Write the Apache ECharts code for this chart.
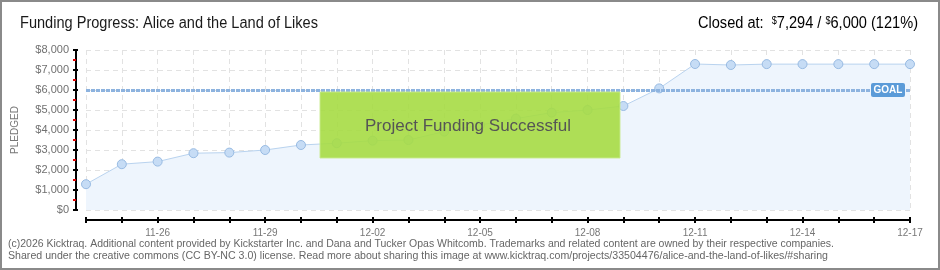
<!DOCTYPE html>
<html><head><meta charset="utf-8">
<script src="https://cdn.jsdelivr.net/npm/echarts@6/dist/echarts.min.js"></script>
<style>html,body{margin:0;padding:0;background:#fff}#c{width:940px;height:270px}</style>
</head><body><div id="c"></div>
<script>
const dates = ['11-24','11-25','11-26','11-27','11-28','11-29','11-30','12-01','12-02','12-03','12-04','12-05','12-06','12-07','12-08','12-09','12-10','12-11','12-12','12-13','12-14','12-15','12-16','12-17'];
const pledged = [1290,2290,2420,2840,2870,3000,3250,3340,3470,3500,3920,4250,4570,4870,5000,5200,6080,7300,7250,7294,7294,7294,7294,7294];
const goal = 6000;
const yTicks = {min:0, max:8000, interval:1000};
const titleText = 'Funding Progress: Alice and the Land of Likes';
const closedParts = ['Closed at:  ', '$', '7,294 / ', '$', '6,000 (121%)'];
const bannerText = 'Project Funding Successful';
const footer1 = '(c)2026 Kicktraq. Additional content provided by Kickstarter Inc. and Dana and Tucker Opas Whitcomb. Trademarks and related content are owned by their respective companies.';
const footer2 = 'Shared under the creative commons (CC BY-NC 3.0) license. Read more about sharing this image at www.kicktraq.com/projects/33504476/alice-and-the-land-of-likes/#sharing';

const FF = 'Liberation Sans, Arial, sans-serif';
const mctx = document.createElement('canvas').getContext('2d');
function w(text, size){ mctx.font = size + 'px ' + FF; return mctx.measureText(text).width; }

const chart = echarts.init(document.getElementById('c'));
const gridPos = {left:86, right:30, top:50, bottom:60};
function fmt(v){ return '$' + v.toLocaleString('en-US'); }

const option = {
  backgroundColor:'#fff',
  animation:false,
  grid:[Object.assign({}, gridPos), Object.assign({}, gridPos)],
  xAxis:[{
    type:'category', data:dates, boundaryGap:false, offset:10, gridIndex:0,
    axisLine:{onZero:false, lineStyle:{color:'#000', width:2}},
    axisTick:{show:true, interval:0, length:3, lineStyle:{color:'#000', width:2}},
    axisLabel:{interval:function(i){return i>=2 && (i-2)%3===0;}, color:'#777', fontSize:10, margin:8, fontFamily:FF},
    splitLine:{show:true, interval:0, lineStyle:{type:[5,4], color:'#e2e2e2'}}
  },{
    type:'category', data:dates, boundaryGap:false, offset:10, gridIndex:1,
    axisLine:{show:false, onZero:false},
    axisTick:{show:true, inside:true, interval:0, length:3, lineStyle:{color:'#000', width:2}},
    axisLabel:{show:false}, splitLine:{show:false}
  }],
  yAxis:[{
    type:'value', min:yTicks.min, max:yTicks.max, interval:yTicks.interval, offset:10, gridIndex:0,
    name:'PLEDGED', nameLocation:'middle', nameRotate:90, nameGap:56,
    nameTextStyle:{color:'#777', fontSize:10, fontFamily:FF},
    axisLine:{show:true, lineStyle:{color:'#000', width:2}},
    axisTick:{show:true, length:3, lineStyle:{color:'#000', width:2}},
    minorTick:{show:true, splitNumber:2, length:3, lineStyle:{color:'#e00000', width:2}},
    axisLabel:{formatter:fmt, color:'#707070', fontSize:11, margin:7, fontFamily:FF},
    splitLine:{show:true, lineStyle:{type:[5,4], color:'#e2e2e2'}}
  },{
    type:'value', min:yTicks.min, max:yTicks.max, interval:yTicks.interval, offset:10, gridIndex:1,
    axisLine:{show:false},
    axisTick:{show:true, inside:true, length:2, lineStyle:{color:'#000', width:2}},
    axisLabel:{show:false}, splitLine:{show:false}
  }],
  series:[{
    type:'line', data:pledged, xAxisIndex:0, yAxisIndex:0,
    symbol:'circle', symbolSize:9,
    lineStyle:{color:'#b9d3ef', width:1},
    itemStyle:{color:'#c6dcf5', borderColor:'#98bbe3', borderWidth:1},
    areaStyle:{color:'#eef5fd', opacity:1},
    markLine:{silent:true, symbol:'none', data:[{yAxis:goal}],
      lineStyle:{color:'#8db3df', type:[4,1], width:3}, label:{show:false}}
  }]
};
chart.setOption(option);

const goalY = chart.convertToPixel({yAxisIndex:0}, goal);
const tScale = 298 / w(titleText, 16);
const cw = w(closedParts[0],16) + w(closedParts[1],10) + w(closedParts[2],16) + w(closedParts[3],10) + w(closedParts[4],16);
const cScale = 220 / cw;
const bScale = 206 / w(bannerText, 17);
const f1Scale = 826 / w(footer1, 10);
const f2Scale = 820 / w(footer2, 10);

chart.setOption({graphic:[
  {type:'rect', shape:{x:1, y:1, width:938, height:268}, style:{fill:'none', stroke:'#8a8a8a', lineWidth:2}, z:100, silent:true},
  {type:'text', x:20, y:24, scaleX:tScale, style:{text:titleText, font:'16px ' + FF, fill:'#1a1a1a', textVerticalAlign:'middle'}, z:100},
  {type:'text', x:918, y:24, scaleX:cScale, style:{
    text:'{m|' + closedParts[0] + '}{s|' + closedParts[1] + '}{m|' + closedParts[2] + '}{s|' + closedParts[3] + '}{m|' + closedParts[4] + '}',
    align:'right', verticalAlign:'middle',
    rich:{m:{fontSize:16, fontFamily:FF, color:'#1a1a1a'}, s:{fontSize:10, fontFamily:FF, color:'#1a1a1a', verticalAlign:'top', padding:[0,0,6,0]}}
  }, z:100},
  {type:'rect', shape:{x:320, y:92, width:300, height:66}, style:{fill:'rgba(166,219,68,0.9)', stroke:'rgba(200,235,140,0.9)', lineWidth:1}, z:100},
  {type:'text', x:468, y:126, scaleX:bScale, style:{text:bannerText, font:'17px ' + FF, fill:'#555', textAlign:'center', textVerticalAlign:'middle', textShadowColor:'#ffffff', textShadowOffsetX:1, textShadowOffsetY:1, textShadowBlur:0}, z:101},
  {type:'rect', shape:{x:871, y:goalY-7, width:34, height:14, r:2}, style:{fill:'#5b9bd8'}, z:100},
  {type:'text', x:888, y:goalY, style:{text:'GOAL', font:'bold 10px ' + FF, fill:'#fff', textAlign:'center', textVerticalAlign:'middle'}, z:101},
  {type:'text', x:8, y:244, scaleX:f1Scale, style:{text:footer1, font:'10px ' + FF, fill:'#666', textVerticalAlign:'middle'}, z:100},
  {type:'text', x:8, y:256, scaleX:f2Scale, style:{text:footer2, font:'10px ' + FF, fill:'#666', textVerticalAlign:'middle'}, z:100}
]});
</script></body></html>
